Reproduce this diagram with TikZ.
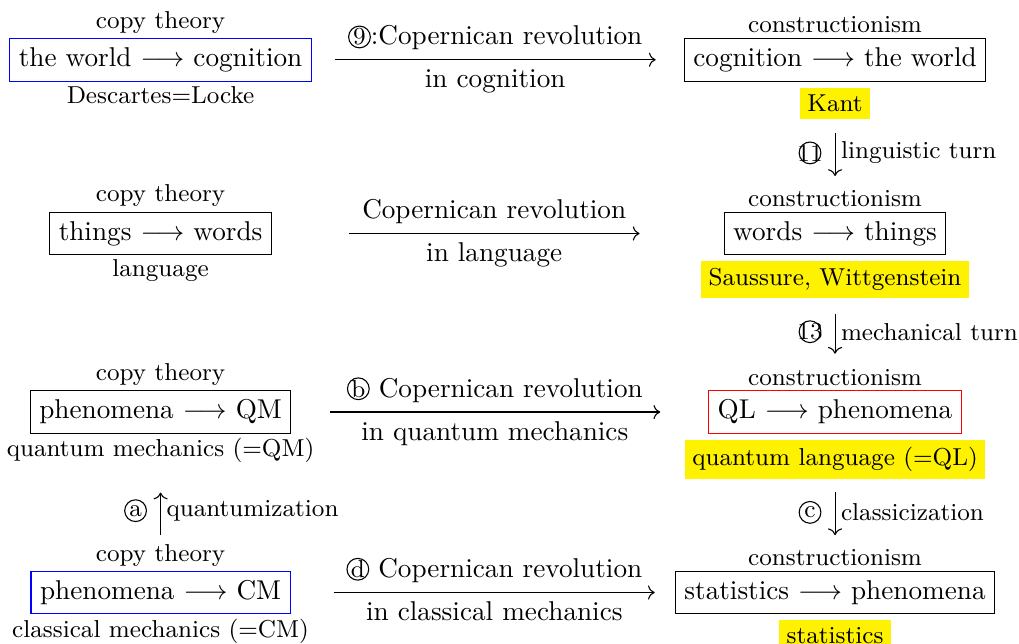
\documentclass[tikz,border=0pt]{standalone}
\usepackage{tikz}
\usetikzlibrary{positioning, arrows.meta}
\tikzset{
  rel box/.style={
    draw,
    line width=0.4pt
  },
  side text/.style={
    font=\small,
    inner sep=1.5pt
  },
  turn text/.style={
    font=\small,
    inner sep=2pt
  },
  name tag/.style={
    fill=yellow,
    font=\small,
    inner sep=2.7pt
  },
  circnum/.style={
    circle,
    draw,
    inner sep=0pt,
    minimum size=8pt,
    font=\small
  }
}
\newcommand{\circnum}[1]{\tikz[baseline=(cn.base)]\node[circnum] (cn) {\makebox[0pt]{#1}};}

\begin{document}
\begin{tikzpicture}[>=To]
    \useasboundingbox (0,0) rectangle (13.167,-8.321);

    % row 1: cognition
    \node[rel box, draw=blue] (wc) at (2.075,-0.772) {the world $\longrightarrow$ cognition};
    \node[side text, above=0pt of wc] (wcTop) {copy theory};
    \node[side text, below=0pt of wc] (wcBot) {Descartes=Locke};
    \node[rel box] (cw) at (10.790,-0.772) {cognition $\longrightarrow$ the world};
    \node[side text, above=0pt of cw] (cwTop) {constructionism};
    \node[name tag, below=2pt of cw] (kant) {Kant};
    \draw[->, shorten <=8.5pt, shorten >=10.3pt] (wc.east) -- (cw.west)
      node[pos=0.493, above] (revA) {\circnum{9}:Copernican revolution}
      node[pos=0.493, below] (revAlow) {in cognition};

    % row 2: language
    \node[rel box] (tw) at (2.075,-3.017) {things $\longrightarrow$ words};
    \node[side text, above=0pt of tw] (twTop) {copy theory};
    \node[side text, below=0pt of tw] (twBot) {language};
    \node[rel box] (wt) at (10.790,-3.017) {words $\longrightarrow$ things};
    \node[side text, above=0pt of wt] (wtTop) {constructionism};
    \node[name tag, below=2pt of wt] (sw) {Saussure, Wittgenstein};
    \draw[->, shorten <=28.3pt, shorten >=30.9pt] (tw.east) -- (wt.west)
      node[pos=0.492, above] (revB) {Copernican revolution}
      node[pos=0.492, below] (revBlow) {in language};

    % row 3: quantum mechanics
    \node[rel box] (pq) at (2.075,-5.324) {phenomena $\longrightarrow$ QM};
    \node[side text, above=0pt of pq] (pqTop) {copy theory};
    \node[side text, below=0pt of pq] (pqBot) {quantum mechanics (=QM)};
    \node[rel box, draw=red] (qp) at (10.790,-5.324) {QL $\longrightarrow$ phenomena};
    \node[side text, above=0pt of qp] (qpTop) {constructionism};
    \node[name tag, below=2pt of qp] (ql) {quantum language (=QL)};
    \draw[->, shorten <=14pt, shorten >=17.6pt] (pq.east) -- (qp.west)
      node[pos=0.488, above] (revC) {\circnum{b} Copernican revolution}
      node[pos=0.488, below] (revClow) {in quantum mechanics};

    % row 4: classical mechanics
    \node[rel box, draw=blue] (pc) at (2.075,-7.656) {phenomena $\longrightarrow$ CM};
    \node[side text, above=0pt of pc] (pcTop) {copy theory};
    \node[side text, below=0pt of pc] (pcBot) {classical mechanics (=CM)};
    \node[rel box] (sp) at (10.790,-7.656) {statistics $\longrightarrow$ phenomena};
    \node[side text, above=0pt of sp] (spTop) {constructionism};
    \node[name tag, below=2pt of sp] (stat) {statistics};
    \draw[->, shorten <=15.8pt, shorten >=7.4pt] (pc.east) -- (sp.west)
      node[pos=0.530, above] (revD) {\circnum{d} Copernican revolution}
      node[pos=0.530, below] (revDlow) {in classical mechanics};

    % turns between the rows
    \draw[->, shorten <=4.8pt, shorten >=3.7pt] (kant.south) -- (wtTop.north)
      node[circnum, midway, left=5pt] (turnA) {\makebox[0pt]{11}}
      node[turn text, midway, right] (turnAtxt) {linguistic turn};
    \draw[->, shorten <=5.5pt, shorten >=4pt] (sw.south) -- (qpTop.north)
      node[circnum, midway, left=5pt] (turnB) {\makebox[0pt]{13}}
      node[turn text, midway, right] (turnBtxt) {mechanical turn};
    \draw[->, shorten <=4.4pt, shorten >=3.7pt] (ql.south) -- (spTop.north)
      node[circnum, midway, left=5pt] (turnC) {\makebox[0pt]{c}}
      node[turn text, midway, right] (turnCtxt) {classicization};
    \draw[->, shorten <=1.8pt, shorten >=9.2pt] (pcTop.north) -- (pqBot.south)
      node[circnum, pos=0.4, left=5pt] (turnD) {\makebox[0pt]{a}}
      node[turn text, pos=0.4, right] (turnDtxt) {quantumization};

\end{tikzpicture}
\end{document}
